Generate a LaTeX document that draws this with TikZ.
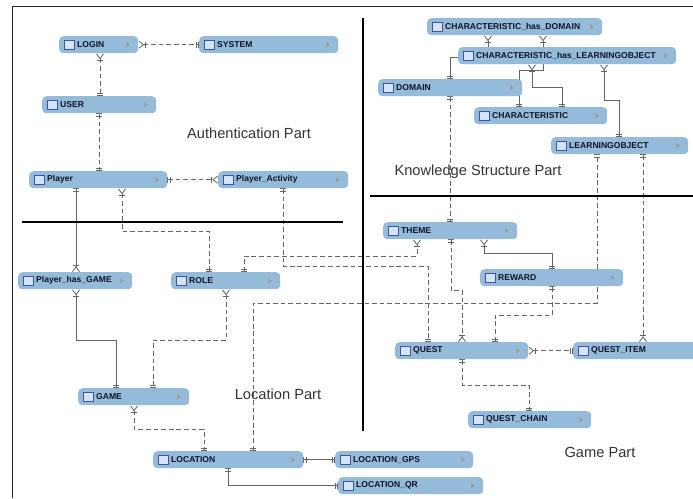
\documentclass[tikz,border=0pt]{standalone}
\usepackage{fontspec}
\setmainfont{Liberation Sans}
\usepackage{tikz}
\usetikzlibrary{arrows.meta}
\definecolor{boxblue}{RGB}{148,188,218}
\definecolor{relgray}{RGB}{100,100,100}
\definecolor{iconblue}{RGB}{62,84,165}
\definecolor{iconfill}{RGB}{214,226,246}
\definecolor{entitytext}{RGB}{18,18,40}
\newcommand{\px}{0.03cm}
\pgfdeclarelayer{bg}
\pgfsetlayers{bg,main}
\tikzset{
  onlyone/.tip    = {Bar[width=5pt,sep=1.3pt]Bar[width=5pt]},
  crowfoot/.tip   = {Bar[width=5pt,sep=0.6pt]Straight Barb[reversed,length=4pt,width=6pt]},
  rel/.style      = {relgray,line width=0.7pt},
  reldash/.style  = {rel,dash pattern=on 4pt off 2.5pt},
  divider/.style  = {black,line width=1.6pt},
  partlabel/.style= {font=\fontsize{12.5}{14}\selectfont,text=black!80},
  entity/.style   = {fill=boxblue,rounded corners=3.5pt,anchor=north west,
    minimum height=17*\px,inner ysep=0pt,inner xsep=18*\px,align=left,
    font=\fontsize{7.3}{8}\selectfont\bfseries,text=entitytext,
    path picture={
      \draw[iconblue,fill=iconfill,sharp corners,line width=0.45pt]
        ([xshift=5*\px,yshift=-4.5*\px]path picture bounding box.west) rectangle ++(10*\px,9*\px);
      \fill[gray!75,sharp corners]
        ([xshift=-8*\px]path picture bounding box.east) -- ++(-4*\px,2.5*\px) -- ++(0,-5*\px) -- cycle;
    }}
}
\newcommand{\entity}[5]{%
  \pgfmathsetlengthmacro{\entw}{(#4-36)*\px}%
  \node[entity,text width=\entw] (#1) at (#2,#3) {#5};
}

\begin{document}
\begin{tikzpicture}[x=\px,y=-\px]
  \useasboundingbox (0,0) rectangle (693,498);
  \clip (0,0) rectangle (693,498);
  \draw[black!85,line width=0.8pt] (12,498) -- (12,6) -- (693,6);

  % authentication part
  \entity{login}{59}{36}{79}{LOGIN}
  \entity{system}{199}{36}{139}{SYSTEM}
  \entity{user}{42}{96}{114}{USER}
  \entity{player}{29}{171}{138}{Player}
  \entity{playeract}{218}{171}{130}{Player\_Activity}

  % knowledge structure part
  \entity{chd}{427}{18}{175}{CHARACTERISTIC\_has\_DOMAIN}
  \entity{chl}{458}{47}{218}{CHARACTERISTIC\_has\_LEARNINGOBJECT}
  \entity{domain}{378}{79}{144}{DOMAIN}
  \entity{charact}{474}{107}{133}{CHARACTERISTIC}
  \entity{lobj}{551}{137}{137}{LEARNINGOBJECT}

  % location part
  \entity{phg}{18}{272}{114}{Player\_has\_GAME}
  \entity{role}{171}{272}{109}{ROLE}
  \entity{game}{78}{388}{111}{GAME}
  \entity{location}{153}{451}{150}{LOCATION}
  \entity{locgps}{335}{451}{138}{LOCATION\_GPS}
  \entity{locqr}{338}{477}{145}{LOCATION\_QR}

  % game part
  \entity{theme}{383}{222}{134}{THEME}
  \entity{reward}{480}{269}{143}{REWARD}
  \entity{quest}{395}{342}{133}{QUEST}
  \entity{questitem}{573}{342}{135}{QUEST\_ITEM}
  \entity{questchain}{468}{411}{123}{QUEST\_CHAIN}

  \draw[divider] (363,18) -- (363,431);
  \draw[divider] (22,222) -- (343,222);
  \draw[divider] (370,196) -- (693,196);

  \node[partlabel] (authlabel) at (249,133) {Authentication Part};
  \node[partlabel] (knowlabel) at (478,172) {Knowledge Structure Part};
  \node[partlabel] (loclabel)  at (278,394) {Location Part};
  \node[partlabel] (gamelabel) at (600,452) {Game Part};

  \begin{pgfonlayer}{bg}
  \draw[reldash,crowfoot-onlyone] (login.east) -- (system.west);
  \draw[reldash,crowfoot-onlyone] (100,0 |- login.south) -- (100,0 |- user.north);
  \draw[reldash,onlyone-onlyone] (99,0 |- user.south) -- (99,0 |- player.north);
  \draw[reldash,onlyone-crowfoot] (player.east) -- (playeract.west);
  \draw[rel,onlyone-crowfoot] (76,0 |- player.south) -- (76,0 |- phg.north);
  \draw[reldash,crowfoot-onlyone] (122,0 |- player.south) |- (209,231) -- (209,0 |- role.north);
  \draw[reldash,onlyone-onlyone] (283,0 |- playeract.south) |- (428,266) -- (428,0 |- quest.north);
  \draw[reldash,onlyone-crowfoot] (244,0 |- role.north) |- (417,256) -- (417,0 |- theme.south);
  \draw[reldash,crowfoot-onlyone] (226,0 |- role.south) |- (153,340) -- (153,0 |- game.north);
  \draw[rel,crowfoot-onlyone] (76,0 |- phg.south) |- (116,340) -- (116,0 |- game.north);
  \draw[reldash,crowfoot-onlyone] (134,0 |- game.south) |- (204,429) -- (204,0 |- location.north);
  \draw[reldash,onlyone-onlyone] (253,0 |- location.north) |- (597,303) -- (597,0 |- lobj.south);
  \draw[rel,onlyone-onlyone] (location.east) -- (locgps.west);
  \draw[rel,onlyone-onlyone] (228,0 |- location.south) |- (locqr.west);
  \draw[reldash,onlyone-onlyone] (450,0 |- domain.south) -- (450,0 |- theme.north);
  \draw[reldash,onlyone-crowfoot] (451,0 |- theme.south) |- (462,290) -- (462,0 |- quest.north);
  \draw[rel,crowfoot-onlyone] (484,0 |- theme.south) |- (552,253) -- (552,0 |- reward.north);
  \draw[reldash,onlyone-onlyone] (552,0 |- reward.south) |- (495,315) -- (495,0 |- quest.north);
  \draw[reldash,crowfoot-onlyone] (quest.east) -- (questitem.west);
  \draw[reldash,onlyone-crowfoot] (643,0 |- lobj.south) -- (643,0 |- questitem.north);
  \draw[reldash,onlyone-onlyone] (462,0 |- quest.south) |- (529,385) -- (529,0 |- questchain.north);
  \draw[rel,crowfoot-onlyone] (488,0 |- chd.south) -- (488,57) -- (450,57) -- (450,0 |- domain.north);
  \draw[rel,crowfoot-onlyone] (543,0 |- chd.south) -- (543,70) -- (519,70) -- (519,0 |- charact.north);
  \draw[rel,crowfoot-onlyone] (532,0 |- chl.south) |- (562,87) -- (562,0 |- charact.north);
  \draw[rel,crowfoot-onlyone] (604,0 |- chl.south) |- (619,100) -- (619,0 |- lobj.north);
  \end{pgfonlayer}
\end{tikzpicture}
\end{document}
